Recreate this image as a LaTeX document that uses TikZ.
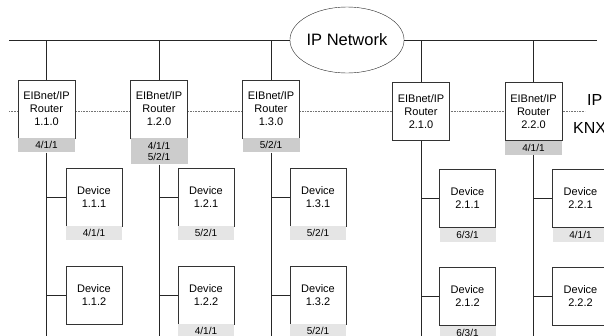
\documentclass[tikz,border=0pt]{standalone}
\usepackage{fontspec}
\setmainfont{Liberation Sans}
\usetikzlibrary{positioning,shapes.geometric}
\tikzset{
  router/.style={draw=black!80, fill=white, minimum width=57pt, minimum height=58pt,
    inner sep=0pt, align=center, font=\fontsize{11}{13}\selectfont},
  device/.style={router, minimum width=56pt},
  rlab/.style={fill=black!20, minimum width=57pt, minimum height=14pt, inner sep=1pt,
    align=center, font=\fontsize{10}{11.5}\selectfont},
  dlab/.style={rlab, fill=black!10, minimum width=56pt},
  bus/.style={draw=black!85, line width=0.7pt},
  side/.style={anchor=west, inner sep=0pt, font=\fontsize{16}{18}\selectfont},
}
\begin{document}
\begin{tikzpicture}[x=1pt,y=-1pt]
\useasboundingbox (0,0) rectangle (604,335);
\clip (0,0) rectangle (604,335);
\coordinate (busL) at (9,40);
\coordinate (busR) at (597,40);
\coordinate (knxL) at (9,111);
\coordinate (knxR) at (585,111);
\coordinate (bottom) at (0,340);
%\draw[dotted] (knxL) -- (knxR);
\draw[black!55, dash pattern=on 0.8pt off 0.8pt] (knxL) -- (knxR);
\node[ellipse, draw=black!85, minimum width=112pt, minimum height=66pt, inner sep=0pt,
  font=\fontsize{16.5}{18}\selectfont] (ipnet) at (347,40) {IP Network};
\draw[bus] (busL) -- (ipnet.west) (ipnet.east) -- (busR);
\node[side] (iplab) at (587,100) {IP};
\node[side] (knxlab) at (573,128) {KNX};

% routers
\node[router] (r110) at (46.5,109) {EIBnet/IP\\Router\\1.1.0};
\node[router] (r120) at (159,109) {EIBnet/IP\\Router\\1.2.0};
\node[router] (r130) at (271,109) {EIBnet/IP\\Router\\1.3.0};
\node[router] (r210) at (421,111.5) {EIBnet/IP\\Router\\2.1.0};
\node[router] (r220) at (533.5,111.5) {EIBnet/IP\\Router\\2.2.0};
\node[rlab, below=0pt of r110] (a110) {4/1/1};
\node[rlab, below=0pt of r120, minimum height=26pt] (a120) {4/1/1\\5/2/1};
\node[rlab, below=0pt of r130] (a130) {5/2/1};
\node[rlab, below=0pt of r220] (a220) {4/1/1};

% devices
\node[device] (d111) at (94,197) {Device\\1.1.1};
\node[device] (d112) at (94,295) {Device\\1.1.2};
\node[device] (d121) at (206,197) {Device\\1.2.1};
\node[device] (d122) at (206,295) {Device\\1.2.2};
\node[device] (d131) at (318,197) {Device\\1.3.1};
\node[device] (d132) at (318,295) {Device\\1.3.2};
\node[device] (d211) at (467.5,198.5) {Device\\2.1.1};
\node[device] (d212) at (467.5,296.5) {Device\\2.1.2};
\node[device] (d221) at (580.5,198.5) {Device\\2.2.1};
\node[device] (d222) at (580.5,296.5) {Device\\2.2.2};
\node[dlab, below=0pt of d111] (a111) {4/1/1};
\node[dlab, below=0pt of d121] (a121) {5/2/1};
\node[dlab, below=0pt of d122] (a122) {4/1/1};
\node[dlab, below=0pt of d131] (a131) {5/2/1};
\node[dlab, below=0pt of d132] (a132) {5/2/1};
\node[dlab, below=0pt of d211] (a211) {6/3/1};
\node[dlab, below=0pt of d212] (a212) {6/3/1};
\node[dlab, below=0pt of d221] (a221) {4/1/1};

% IP side
\draw[bus] (r110.north |- busL) -- (r110.north);
\draw[bus] (r120.north |- busL) -- (r120.north);
\draw[bus] (r130.north |- busL) -- (r130.north);
\draw[bus] (r210.north |- busL) -- (r210.north);
\draw[bus] (r220.north |- busL) -- (r220.north);

% KNX lines
\draw[bus] (a110.south) -- (a110.south |- bottom);
\draw[bus] (a120.south) -- (a120.south |- bottom);
\draw[bus] (a130.south) -- (a130.south |- bottom);
\draw[bus] (r210.south) -- (r210.south |- bottom);
\draw[bus] (a220.south) -- (a220.south |- bottom);
\draw[bus] (d111.west) -- (d111.west -| r110) (d112.west) -- (d112.west -| r110);
\draw[bus] (d121.west) -- (d121.west -| r120) (d122.west) -- (d122.west -| r120);
\draw[bus] (d131.west) -- (d131.west -| r130) (d132.west) -- (d132.west -| r130);
\draw[bus] (d211.west) -- (d211.west -| r210) (d212.west) -- (d212.west -| r210);
\draw[bus] (d221.west) -- (d221.west -| r220) (d222.west) -- (d222.west -| r220);
\end{tikzpicture}
\end{document}
